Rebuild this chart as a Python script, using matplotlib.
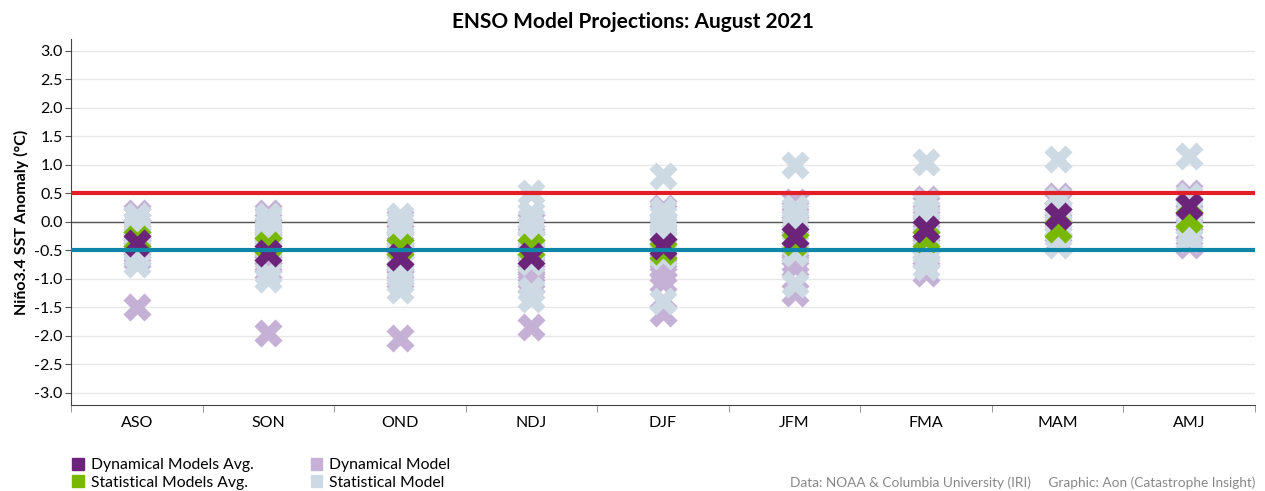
import matplotlib
matplotlib.use("Agg")
import matplotlib.pyplot as plt
from matplotlib.patches import Patch

plt.rcParams['font.family'] = ['Lato', 'DejaVu Sans']

seasons = ['ASO', 'SON', 'OND', 'NDJ', 'DJF', 'JFM', 'FMA', 'MAM', 'AMJ']

# single model runs per season
dyn_models = [
    [0.15, 0.1, 0.0, -0.1, -0.2, -0.3, -0.35, -0.4, -0.45, -0.5, -0.55, -0.6, -0.65, -1.5],
    [0.15, 0.1, 0.0, -0.1, -0.2, -0.3, -0.4, -0.5, -0.6, -0.7, -0.75, -0.85, -1.95],
    [0.05, -0.1, -0.2, -0.3, -0.4, -0.5, -0.65, -0.75, -0.85, -0.95, -1.0, -2.05],
    [0.0, -0.1, -0.2, -0.3, -0.5, -0.7, -0.8, -0.9, -1.0, -1.1, -1.85],
    [0.25, 0.15, 0.0, -0.2, -0.5, -0.6, -0.7, -0.8, -0.9, -1.05, -1.6],
    [0.35, 0.2, 0.05, -0.1, -0.3, -0.5, -0.6, -0.7, -0.8, -1.25],
    [0.4, 0.3, 0.1, -0.05, -0.2, -0.4, -0.5, -0.6, -0.9],
    [0.45, 0.35, 0.2, 0.1, 0.0, -0.1, -0.2, -0.35],
    [0.5, 0.4, 0.3, 0.15, 0.0, -0.15, -0.25, -0.4],
]
stat_models = [
    [0.1, 0.0, -0.1, -0.2, -0.3, -0.4, -0.5, -0.6, -0.75],
    [0.1, 0.05, -0.05, -0.15, -0.25, -0.35, -0.45, -0.55, -0.9, -1.0],
    [0.1, 0.0, -0.1, -0.3, -0.5, -0.7, -0.9, -1.05, -1.2],
    [0.5, 0.15, 0.05, -0.1, -0.3, -0.5, -0.7, -1.2, -1.35],
    [0.8, 0.2, 0.1, 0.0, -0.1, -0.2, -0.3, -0.6, -1.4],
    [1.0, 0.25, 0.15, 0.05, -0.1, -0.4, -0.55, -1.1],
    [1.05, 0.35, 0.2, 0.0, -0.3, -0.5, -0.65, -0.8],
    [1.1, 0.4, 0.2, 0.05, -0.1, -0.25, -0.4],
    [1.15, 0.45, 0.3, 0.1, -0.05, -0.2, -0.3],
]
dyn_avg = [-0.38, -0.55, -0.62, -0.6, -0.42, -0.25, -0.12, 0.1, 0.27]
stat_avg = [-0.3, -0.4, -0.45, -0.45, -0.52, -0.35, -0.3, -0.12, 0.05]

c_dyn_avg = '#6b2479'
c_stat_avg = '#78b800'
c_dyn = '#c5b1d6'
c_stat = '#cdd9e3'

fig = plt.figure(figsize=(12.65, 4.91), dpi=100)
ax = fig.add_axes([0.0561, 0.175, 0.936, 0.7456])

ms = 410
for i in range(len(seasons)):
    ax.scatter([i] * len(dyn_models[i]), dyn_models[i], marker='X', s=ms, color=c_dyn, linewidths=0, zorder=3)
for i in range(len(seasons)):
    ax.scatter([i] * len(stat_models[i]), stat_models[i], marker='X', s=ms, color=c_stat, linewidths=0, zorder=4)
ax.scatter(range(len(seasons)), stat_avg, marker='X', s=ms, color=c_stat_avg, linewidths=0, zorder=5)
ax.scatter(range(len(seasons)), dyn_avg, marker='X', s=ms, color=c_dyn_avg, linewidths=0, zorder=6)

ax.axhline(0, color='#555555', lw=1.0, zorder=2)
ax.axhline(0.5, color='#e21f26', lw=3, zorder=7)
ax.axhline(-0.5, color='#0e86a8', lw=3, zorder=7)

ax.set_xlim(-0.5, len(seasons) - 0.5)
ax.set_ylim(-3.22, 3.21)
ax.set_yticks([v / 2 for v in range(-6, 7)])
ax.set_yticklabels(['%.1f' % (v / 2) for v in range(-6, 7)])
ax.set_xticks(range(len(seasons)))
ax.set_xticklabels(seasons)
ax.set_xticks([i + 0.5 for i in range(-1, len(seasons))], minor=True)
ax.tick_params(axis='x', which='major', length=0, pad=8, labelsize=11.5)
ax.tick_params(axis='x', which='minor', length=5, color='#888888')
ax.tick_params(axis='y', length=4, color='#555555', labelsize=11.5, pad=2)
ax.grid(axis='y', color='#e8e8e8', lw=1, zorder=0)
ax.set_axisbelow(True)
for s in ['top', 'right']:
    ax.spines[s].set_visible(False)
ax.spines['left'].set_color('#444444')
ax.spines['bottom'].set_color('#444444')

ax.set_ylabel('Niño3.4 SST Anomaly (°C)', fontsize=11.5, fontweight='bold', labelpad=4)
fig.text(0.5, 0.956, 'ENSO Model Projections: August 2021', ha='center', va='center',
         fontsize=15, fontweight='bold')

handles = [Patch(color=c_dyn_avg), Patch(color=c_stat_avg), Patch(color=c_dyn), Patch(color=c_stat)]
labels = ['Dynamical Models Avg.', 'Statistical Models Avg.', 'Dynamical Model', 'Statistical Model']
fig.legend(handles, labels, ncol=2, loc='lower left', bbox_to_anchor=(0.046, -0.026),
           frameon=False, fontsize=11.3, handlelength=0.75, handleheight=0.75,
           handletextpad=0.45, columnspacing=3.6, labelspacing=0.2)

fig.text(0.992, 0.005, 'Data: NOAA & Columbia University (IRI)     Graphic: Aon (Catastrophe Insight)',
         ha='right', va='bottom', fontsize=9.8, color='#888888')

fig.savefig('out.png', dpi=100)
